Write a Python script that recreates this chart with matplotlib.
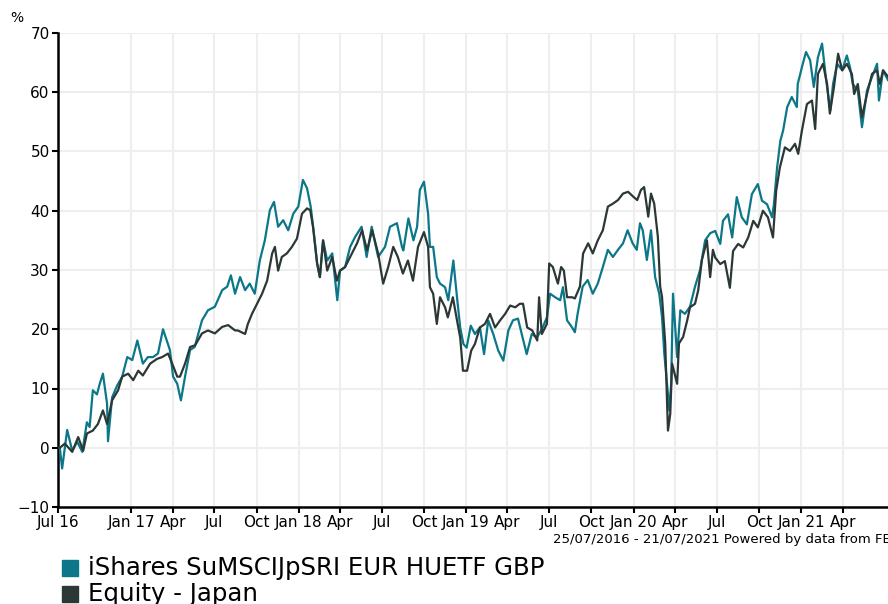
import matplotlib
matplotlib.use("Agg")
import matplotlib.pyplot as plt
import matplotlib.patches as mpatches
import pandas as pd

start = pd.Timestamp("2016-07-25")
end = pd.Timestamp("2021-07-21")

# days since start / cumulative % performance
teal_days = [0, 4, 9, 20, 31, 42, 53, 63, 69, 76, 85, 91, 98, 107, 109, 118, 129, 140, 151, 162,
             173, 178, 185, 196, 207, 218, 229, 238, 244, 251, 260, 268, 277, 288, 298, 314, 327,
             342, 358, 369, 377, 386, 397, 408, 418, 429, 440, 451, 462, 471, 480, 491, 502, 513,
             524, 534, 543, 551, 558, 565, 571, 578, 587, 598, 609, 615, 626, 637, 648, 662, 673,
             684, 698, 713, 724, 739, 750, 753, 764, 775, 783, 789, 798, 807, 811, 818, 826, 833,
             844, 851, 862, 870, 877, 884, 891, 900, 909, 920, 929, 938, 949, 960, 971, 982, 992,
             1003, 1013, 1022, 1033, 1044, 1055, 1066, 1073, 1084, 1095, 1101, 1110, 1121, 1127,
             1133, 1144, 1155, 1166, 1177, 1188, 1199, 1210, 1221, 1232, 1242, 1253, 1262, 1269,
             1275, 1284, 1293, 1302, 1311, 1317, 1322, 1328, 1333, 1337, 1341, 1350, 1357, 1367,
             1378, 1389, 1400, 1411, 1422, 1433, 1444, 1450, 1461, 1470, 1480, 1491, 1502, 1513,
             1526, 1535, 1546, 1557, 1561, 1568, 1575, 1581, 1590, 1600, 1611, 1613, 1622, 1631,
             1640, 1648, 1657, 1666, 1675, 1684, 1690, 1699, 1710, 1720, 1727, 1733, 1744, 1753,
             1764, 1775, 1786, 1790, 1799, 1810, 1822]
teal_vals = [0, 0, -3.5, 3, -0.5, 1, -0.7, 4.3, 3.5, 9.7, 9, 10.8, 12.5, 7.4, 1.1, 8.5, 10.5, 12,
             15.3, 14.8, 18.1, 16.5, 14.2, 15.3, 15.3, 15.9, 20, 17.9, 16.5, 12, 10.8, 8, 12, 16.5,
             17, 21.5, 23.2, 23.8, 26.6, 27.2, 29.1, 26, 28.8, 26.6, 27.7, 26, 31.6, 35, 40.1, 41.5,
             37.3, 38.4, 36.7, 39.5, 40.7, 45.2, 43.8, 40.7, 36.2, 31.1, 28.8, 35, 31.6, 32.8, 24.9,
             29.9, 30.5, 33.9, 35.6, 37.3, 32.2, 37.3, 32.2, 33.9, 37.3, 37.9, 33.9, 33.3, 38.7, 35,
             37.3, 43.5, 44.9, 39.5, 33.9, 33.9, 28.8, 27.7, 27.1, 24.9, 31.6, 25.4, 20.3, 17.5, 16.9,
             20.6, 19.2, 20.3, 15.8, 21.5, 19.2, 16.4, 14.7, 19.8, 21.5, 21.8, 18.6, 15.8, 19.2, 18.6,
             20, 22, 26, 25.4, 24.9, 27.1, 21.5, 20.3, 19.5, 22.6, 27.2, 28.3, 26, 27.7, 30.5, 33.4,
             32.2, 33.4, 34.5, 36.7, 34.5, 33.4, 37.9, 36.7, 31.7, 36.7, 28.8, 26, 22.1, 15.9, 10.8,
             6.3, 10.8, 26, 15.3, 23.2, 22.6, 23.8, 27.2, 30, 35, 36.2, 36.6, 34.4, 38.3, 39.4, 35.5,
             42.3, 38.9, 37.7, 42.8, 44.5, 41.7, 41.1, 38.9, 41.1, 47.3, 51.8, 53.5, 57.5, 59.2, 57.5,
             61.4, 64.2, 66.8, 65.4, 60.9, 65.9, 68.2, 62, 56.9, 61.4, 64.8, 63.7, 66.2, 64.2, 61.4,
             60.3, 54.1, 60.3, 62.6, 64.8, 58.6, 63.7, 62, 63]

dark_days = [0, 4, 15, 31, 44, 55, 63, 76, 87, 98, 107, 118, 131, 140, 153, 164, 175, 185, 201,
             216, 227, 240, 249, 260, 266, 277, 288, 299, 314, 327, 342, 358, 371, 386, 392, 408,
             414, 423, 434, 445, 456, 467, 473, 480, 488, 499, 510, 521, 532, 543, 550, 556, 565,
             571, 578, 587, 598, 608, 615, 626, 637, 652, 663, 674, 685, 698, 709, 720, 731, 741,
             752, 763, 774, 785, 798, 807, 811, 818, 826, 833, 844, 850, 861, 870, 877, 883, 892,
             901, 909, 920, 931, 942, 953, 964, 975, 986, 997, 1007, 1014, 1023, 1034, 1045, 1049,
             1055, 1066, 1071, 1079, 1090, 1097, 1103, 1110, 1121, 1127, 1138, 1145, 1156, 1166,
             1177, 1188, 1199, 1210, 1221, 1232, 1243, 1254, 1263, 1271, 1278, 1287, 1293, 1300,
             1308, 1313, 1317, 1324, 1328, 1330, 1335, 1339, 1350, 1354, 1363, 1372, 1378, 1389,
             1396, 1404, 1415, 1422, 1428, 1433, 1444, 1454, 1465, 1472, 1483, 1494, 1505, 1516,
             1526, 1537, 1548, 1559, 1566, 1574, 1585, 1596, 1607, 1614, 1622, 1633, 1644, 1651,
             1657, 1668, 1677, 1683, 1692, 1701, 1710, 1720, 1731, 1736, 1744, 1753, 1764, 1775,
             1786, 1792, 1799, 1810, 1822]
dark_vals = [0, 0, 0.7, -0.7, 1.8, -0.5, 2.4, 2.9, 4, 6.3, 4, 8, 9.7, 12, 12.5, 11.4, 13, 12.2,
             14.2, 15, 15.3, 15.9, 14.2, 12, 12, 14.2, 17, 17.3, 19.3, 19.8, 19.3, 20.4, 20.7, 19.8,
             19.8, 19.2, 20.9, 22.6, 24.3, 26, 28.2, 32.8, 33.9, 29.9, 32.2, 32.8, 33.9, 35.3, 39.5,
             40.4, 40.1, 37.3, 31.1, 28.8, 35, 29.9, 32.2, 28.2, 29.9, 30.5, 32.2, 34.5, 36.7, 33.3,
             36.7, 32.8, 27.7, 30.5, 33.9, 32.2, 29.4, 31.6, 28.2, 33.9, 36.4, 33.9, 27.1, 26, 20.9,
             25.4, 23.7, 22, 25.4, 21.5, 18.6, 13, 13, 16.4, 17.5, 20.3, 20.9, 22.6, 20.3, 21.5, 22.6,
             24, 23.7, 24.3, 24.3, 20.3, 19.8, 18.1, 25.4, 19.2, 20.9, 31.1, 30.5, 27.7, 30.5, 29.9,
             25.4, 25.4, 25.2, 27.2, 32.8, 34.5, 32.8, 35, 36.7, 40.7, 41.2, 41.8, 42.9, 43.2, 42.4,
             41.8, 43.5, 44, 39, 42.9, 41.2, 35.6, 27.2, 25.5, 17.6, 7.4, 2.9, 5.7, 14.2, 10.8, 17.6,
             18.7, 21.5, 23.7, 24.3, 26.6, 31.7, 35, 28.8, 33.4, 32.1, 31, 31.5, 27, 33.2, 34.4, 33.8,
             35.5, 38.3, 37.2, 40, 38.9, 35.5, 43.4, 47.3, 50.7, 50.1, 51.3, 49.6, 53.5, 58, 58.6,
             53.8, 63.1, 64.8, 61.4, 56.4, 60.9, 66.5, 63.7, 64.8, 63.1, 59.7, 61.4, 55.8, 59.7, 63.1,
             63.7, 61.4, 63.7, 62.6, 63]

teal_name = "iShares SuMSCIJpSRI EUR HUETF GBP"
dark_name = "Equity - Japan"
teal_col = "#0b7788"
dark_col = "#2b3836"

tick_dates = [start] + list(pd.date_range("2017-01-01", "2021-04-01", freq="QS"))
tick_labels = ["Jul 16"] + [d.strftime("%b %y") if d.month == 1 else d.strftime("%b")
                            for d in tick_dates[1:]]

plt.rcParams["font.family"] = "DejaVu Sans"
fig = plt.figure(figsize=(8.88, 6.04), dpi=100)
ax = fig.add_axes([58 / 888, 1 - 507 / 604, (893.6 - 58) / 888, 474 / 604])

teal_x = start + pd.to_timedelta(teal_days, unit="D")
dark_x = start + pd.to_timedelta(dark_days, unit="D")
ax.plot(teal_x, teal_vals, color=teal_col, lw=1.6, zorder=3)
ax.plot(dark_x, dark_vals, color=dark_col, lw=1.6, zorder=4)

ax.set_xlim(start, end)
ax.set_ylim(-10, 70)
ax.set_yticks(range(-10, 71, 10))
ax.set_xticks(tick_dates)
ax.set_xticklabels(tick_labels)
ax.tick_params(labelsize=11, length=4, width=1.5, color="black", pad=2)
ax.grid(True, color="#eeeeee", lw=1.5)
ax.set_axisbelow(True)
for s in ["top", "right"]:
    ax.spines[s].set_visible(False)
for s in ["left", "bottom"]:
    ax.spines[s].set_linewidth(1.8)
    ax.spines[s].set_color("black")

fig.text(10 / 888, 1 - 18 / 604, "%", fontsize=10, va="center")
# source line runs off the right edge, as in the original
fig.text(553 / 888, 1 - 540 / 604, "25/07/2016 - 21/07/2021 Powered by data from FE",
         fontsize=9.5, va="center", ha="left")

# legend below the chart
for i, (name, col) in enumerate([(teal_name, teal_col), (dark_name, dark_col)]):
    yc = 568 + i * 26
    fig.patches.append(mpatches.Rectangle((62 / 888, 1 - (yc + 8) / 604), 16 / 888, 16 / 604,
                                          transform=fig.transFigure, color=col))
    fig.text(88 / 888, 1 - yc / 604, name, fontsize=17.6, va="center", ha="left")

fig.savefig("out.png", dpi=100)
